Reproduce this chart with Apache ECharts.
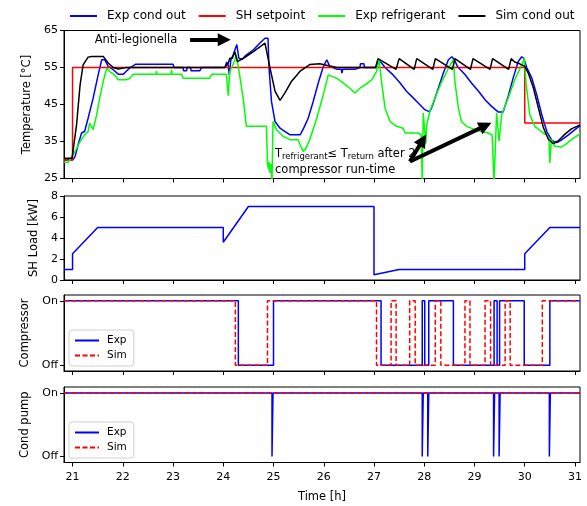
<!DOCTYPE html>
<html>
<head>
<meta charset="utf-8">
<script src="https://cdn.jsdelivr.net/npm/echarts@6/dist/echarts.min.js"></script>
<style>
  html, body { margin: 0; padding: 0; background: #fff; }
  #chart { width: 587px; height: 506px; }
</style>
</head>
<body>
<div id="chart"></div>
<script>
// axis ticks
const timeTicks = [21, 22, 23, 24, 25, 26, 27, 28, 29, 30, 31];
const tempTicks = [25, 35, 45, 55, 65];
const loadTicks = [0, 2, 4, 6, 8];
const onOffTicks = [0, 1];
const onOffLabels = ['Off', 'On'];

// top panel, [time h, temperature °C]
const expCondOut = [
  [20.83, 30.1], [21.01, 30.1], [21.05, 30.9], [21.11, 34.1], [21.18, 37.3], [21.24, 37.7],
  [21.31, 41.3], [21.41, 46.7], [21.51, 53.0], [21.58, 57.1], [21.64, 57.1], [21.71, 55.3],
  [21.81, 54.4], [21.91, 53.2], [22.01, 53.2], [22.07, 54.0], [22.14, 54.9], [22.26, 55.9],
  [23.0, 55.9], [23.02, 55.0], [23.2, 55.0], [23.21, 54.1], [23.27, 54.1], [23.28, 55.0],
  [23.35, 55.0], [23.36, 54.1], [23.53, 54.1], [23.57, 55.0], [24.03, 55.0], [24.07, 56.5],
  [24.1, 55.5], [24.12, 53.0], [24.15, 57.0], [24.2, 58.5], [24.27, 61.2], [24.31, 57.5],
  [24.38, 57.2], [24.45, 58.3], [24.6, 59.8], [24.73, 61.6], [24.83, 62.9], [24.89, 62.9],
  [24.91, 55.0], [24.96, 45.8], [25.03, 40.4], [25.13, 38.6], [25.23, 37.7], [25.33, 36.8],
  [25.53, 36.8], [25.6, 38.6], [25.69, 41.3], [25.79, 45.8], [25.89, 50.8], [25.99, 55.2],
  [26.06, 57.1], [26.12, 55.3], [26.26, 54.5], [26.35, 54.5], [26.36, 53.5], [26.38, 54.5],
  [26.62, 54.5], [26.63, 55.0], [26.72, 55.0], [26.73, 56.0], [26.8, 56.0], [26.81, 55.0],
  [27.05, 55.0], [27.08, 57.1], [27.1, 57.5], [27.15, 56.2], [27.22, 55.0], [27.38, 53.0],
  [27.52, 50.8], [27.65, 48.5], [27.75, 47.2], [27.88, 45.4], [28.01, 43.6], [28.11, 43.0],
  [28.17, 44.9], [28.28, 49.4], [28.38, 53.5], [28.48, 57.1], [28.55, 57.9], [28.6, 57.1],
  [28.66, 55.3], [28.81, 53.1], [28.94, 50.8], [29.08, 48.6], [29.21, 46.3], [29.34, 44.5],
  [29.47, 43.0], [29.57, 43.0], [29.67, 47.2], [29.77, 52.2], [29.87, 56.6], [29.94, 57.9],
  [29.98, 57.5], [30.04, 55.0], [30.14, 52.2], [30.24, 47.6], [30.34, 42.2], [30.44, 37.7],
  [30.54, 35.3], [30.64, 34.7], [30.72, 35.3], [30.87, 36.8], [31.0, 38.2], [31.1, 39.3]
];
const shSetpoint = [
  [20.83, 30.0], [21.0, 30.0], [21.0, 55.0], [30.0, 55.0], [30.0, 40.0], [31.1, 40.0]
];
const expRefrigerant = [
  [20.83, 29.4], [20.91, 29.4], [20.95, 30.1], [21.05, 32.3], [21.15, 35.0], [21.24, 36.8],
  [21.31, 37.7], [21.34, 40.0], [21.41, 38.2], [21.48, 42.2], [21.54, 46.7], [21.61, 51.2],
  [21.68, 54.8], [21.74, 53.9], [21.84, 53.0], [21.91, 51.7], [22.07, 51.7], [22.14, 52.1],
  [22.21, 53.2], [22.66, 53.2], [22.67, 54.0], [22.68, 53.2], [22.96, 53.2], [22.97, 54.4],
  [22.98, 53.2], [23.17, 53.2], [23.2, 52.1], [23.73, 52.1], [23.77, 53.2], [24.06, 53.2],
  [24.1, 47.4], [24.13, 53.9], [24.2, 56.0], [24.26, 58.4], [24.33, 52.6], [24.4, 46.3],
  [24.46, 39.1], [24.86, 39.1], [24.88, 29.0], [24.9, 27.5], [24.91, 29.5], [24.93, 26.5],
  [24.95, 29.0], [24.97, 24.0], [24.99, 40.4], [25.06, 38.2], [25.19, 36.4], [25.33, 35.5],
  [25.49, 35.5], [25.53, 34.1], [25.59, 32.3], [25.64, 33.0], [25.72, 35.5], [25.86, 41.3],
  [25.99, 47.6], [26.09, 53.0], [26.16, 52.6], [26.26, 52.1], [26.39, 50.8], [26.52, 49.4],
  [26.62, 48.1], [26.72, 49.4], [26.82, 50.3], [26.95, 51.6], [27.05, 53.9], [27.1, 57.1],
  [27.15, 51.2], [27.22, 44.0], [27.32, 40.4], [27.45, 39.1], [27.58, 38.6], [27.62, 37.3],
  [27.88, 37.3], [27.94, 36.8], [27.96, 24.0], [27.98, 42.7], [28.03, 34.5], [28.05, 39.5],
  [28.11, 43.1], [28.21, 46.7], [28.35, 51.2], [28.48, 54.8], [28.58, 57.1], [28.61, 51.2],
  [28.68, 44.0], [28.74, 40.4], [28.84, 39.1], [29.01, 38.2], [29.27, 37.3], [29.35, 36.8],
  [29.39, 24.0], [29.44, 42.7], [29.49, 35.1], [29.54, 42.3], [29.67, 46.7], [29.8, 51.7],
  [29.94, 55.7], [29.99, 57.5], [30.03, 50.3], [30.1, 42.3], [30.2, 39.1], [30.33, 37.7],
  [30.43, 36.8], [30.48, 36.1], [30.5, 29.2], [30.53, 35.5], [30.6, 33.7], [30.73, 33.5],
  [30.8, 34.1], [30.93, 35.5], [31.07, 36.8], [31.1, 37.0]
];
const simCondOut = [
  [20.83, 30.5], [20.99, 30.5], [21.08, 39.5], [21.15, 50.3], [21.21, 55.7], [21.31, 57.8],
  [21.38, 58.0], [21.61, 58.0], [21.71, 56.2], [21.81, 55.0], [21.91, 54.6], [22.07, 55.0],
  [24.03, 55.0], [24.1, 56.2], [24.13, 57.5], [24.18, 57.5], [24.23, 59.3], [24.28, 56.6],
  [24.4, 57.5], [24.6, 59.3], [24.83, 61.6], [24.93, 54.9], [25.03, 48.6], [25.13, 46.1],
  [25.23, 48.2], [25.36, 51.3], [25.53, 54.0], [25.72, 55.8], [25.92, 56.0], [26.12, 55.4],
  [26.26, 55.0], [27.03, 55.0], [27.08, 57.4], [27.44, 54.5], [27.5, 57.4], [27.8, 54.5],
  [27.85, 57.4], [28.17, 54.5], [28.22, 57.4], [28.56, 54.5], [28.61, 57.4], [28.92, 54.5],
  [28.97, 57.4], [29.31, 54.5], [29.36, 57.4], [29.68, 54.5], [29.73, 57.4], [29.8, 56.5],
  [29.9, 56.0], [30.0, 55.3], [30.07, 53.5], [30.17, 49.6], [30.27, 44.2], [30.37, 38.8],
  [30.47, 35.6], [30.57, 34.4], [30.67, 35.2], [30.8, 37.0], [30.93, 38.4], [31.07, 39.3],
  [31.1, 39.5]
];

// SH load, [time h, kW]
const shLoad = [
  [20.83, 1], [21.0, 1], [21.0, 2.5], [21.5, 5], [24.0, 5], [24.0, 3.6], [24.5, 7],
  [27.0, 7], [27.0, 0.5], [27.5, 1], [30.0, 1], [30.0, 2.5], [30.5, 5], [31.1, 5]
];

// on/off states (held until the next time)
const compExpTime = [20.83, 24.3, 25.0, 27.14, 27.96, 28.01, 28.09, 28.58, 29.39, 29.45, 29.5, 29.99, 30.5, 31.1];
const compExpState = [1, 0, 1, 0, 1, 0, 1, 0, 1, 0, 1, 0, 1, 1];
const compSimTime = [20.83, 24.24, 24.88, 27.05, 27.34, 27.44, 27.71, 27.82, 28.22, 28.33, 28.81, 28.91, 29.21, 29.32, 29.61, 29.71, 30.35, 31.1];
const compSimState = [1, 0, 1, 0, 1, 0, 1, 0, 1, 0, 1, 0, 1, 0, 1, 0, 1, 1];
const pumpExpTime = [20.83, 24.97, 24.99, 27.96, 27.98, 28.07, 28.09, 29.38, 29.4, 29.49, 29.51, 30.49, 30.51, 31.1];
const pumpExpState = [1, 0, 1, 0, 1, 0, 1, 0, 1, 0, 1, 0, 1, 1];
const pumpSimTime = [20.83, 31.1];
const pumpSimState = [1, 1];

const font = 'DejaVu Sans';
const BLUE = '#0000ff', RED = '#ff0000', GREEN = '#00ff00', BLACK = '#000000';
const xMin = 20.83, xMax = 31.1;

const zip = (a, b) => a.map((v, i) => [v, b[i]]);

function xAxisFor(gridIndex, showLabels) {
  return {
    type: 'value', gridIndex, min: xMin, max: xMax,
    axisLine: { show: true, onZero: false, lineStyle: { color: '#000', width: 1 } },
    axisTick: { show: true, customValues: timeTicks, length: 4, lineStyle: { color: '#000' } },
    axisLabel: { show: showLabels, customValues: timeTicks, margin: 9, color: '#000', fontSize: 11, fontFamily: font },
    splitLine: { show: false },
    name: showLabels ? 'Time [h]' : '',
    nameLocation: 'middle', nameGap: 29,
    nameTextStyle: { color: '#000', fontSize: 11.5, fontFamily: font }
  };
}

function yAxisFor(gridIndex, min, max, ticks, name, nameGap, fmt) {
  return {
    type: 'value', gridIndex, min, max,
    axisLine: { show: true, onZero: false, lineStyle: { color: '#000', width: 1 } },
    axisTick: { show: true, customValues: ticks, length: 4, lineStyle: { color: '#000' } },
    axisLabel: { customValues: ticks, margin: 6, color: '#000', fontSize: 11, fontFamily: font, formatter: fmt },
    splitLine: { show: false },
    name, nameLocation: 'middle', nameRotate: 90, nameGap,
    nameTextStyle: { color: '#000', fontSize: 11.5, fontFamily: font }
  };
}

function line(name, data, color, xi, extra) {
  return Object.assign({
    name, type: 'line', data, xAxisIndex: xi, yAxisIndex: xi,
    symbol: 'none', showSymbol: false,
    lineStyle: { color, width: 1.5 }, itemStyle: { color },
    emphasis: { disabled: true }
  }, extra || {});
}

const onOffFmt = v => onOffLabels[onOffTicks.indexOf(v)];
const gridBase = { left: 64, right: 7, show: true, borderColor: '#000', borderWidth: 1, backgroundColor: '#fff' };
const noMarker = { opacity: 0 };
const smallLegend = top => ({
  data: ['Exp', 'Sim'], orient: 'vertical', left: 69, top,
  itemWidth: 24, itemHeight: 8, itemGap: 4, selectedMode: false,
  itemStyle: noMarker,
  backgroundColor: 'rgba(255,255,255,0.8)', borderColor: '#d0d0d0', borderWidth: 1, borderRadius: 3,
  padding: [5, 7, 5, 5],
  textStyle: { color: '#000', fontSize: 10.5, fontFamily: font, padding: [0, 0, 0, 3] }
});

const chart = echarts.init(document.getElementById('chart'));
chart.setOption({
  animation: false,
  backgroundColor: '#fff',
  textStyle: { fontFamily: font },
  grid: [
    Object.assign({ top: 30.5, height: 148 }, gridBase),
    Object.assign({ top: 196, height: 84 }, gridBase),
    Object.assign({ top: 295, height: 76 }, gridBase),
    Object.assign({ top: 387, height: 75.5 }, gridBase)
  ],
  legend: [
    {
      data: ['Exp cond out', 'SH setpoint', 'Exp refrigerant', 'Sim cond out'],
      top: 5, left: 64, itemWidth: 27, itemHeight: 10, itemGap: 12, selectedMode: false,
      itemStyle: noMarker,
      textStyle: { color: '#000', fontSize: 12, fontFamily: font, padding: [0, 0, 0, 5] }
    },
    smallLegend(330),
    smallLegend(422)
  ],
  xAxis: [xAxisFor(0, false), xAxisFor(1, false), xAxisFor(2, false), xAxisFor(3, true)],
  yAxis: [
    yAxisFor(0, 25, 65, tempTicks, 'Temperature [°C]', 29),
    yAxisFor(1, 0, 8, loadTicks, 'SH Load [kW]', 21),
    yAxisFor(2, -0.09, 1.09, onOffTicks, 'Compressor', 33, onOffFmt),
    yAxisFor(3, -0.095, 1.095, onOffTicks, 'Cond pump', 33, onOffFmt)
  ],
  series: [
    line('Exp cond out', expCondOut, BLUE, 0),
    line('SH setpoint', shSetpoint, RED, 0),
    line('Exp refrigerant', expRefrigerant, GREEN, 0),
    line('Sim cond out', simCondOut, BLACK, 0, {
      markLine: {
        silent: true, symbol: ['none', 'triangle'], symbolSize: 13,
        label: { show: false }, emphasis: { disabled: true },
        lineStyle: { color: '#000', width: 4, type: 'solid' },
        itemStyle: { color: '#000' },
        data: [
          [{ coord: [23.34, 62.5] }, { coord: [24.02, 62.5] }],
          [{ coord: [27.715, 29.6] }, { coord: [27.97, 35.4] }],
          [{ coord: [27.715, 29.6] }, { coord: [29.22, 39.3] }]
        ]
      },
      markPoint: {
        silent: true, symbol: 'circle', symbolSize: 0,
        data: [
          {
            coord: [21.44, 62.5],
            label: { show: true, position: 'right', distance: 0, formatter: 'Anti-legionella', color: '#000', fontSize: 11.5, fontFamily: font }
          },
          {
            coord: [25.03, 29.4],
            label: {
              show: true, position: 'right', distance: 0, align: 'left',
              formatter: '{n|T}{s|refrigerant}{n|≤ T}{s|return}{n| after 2\'}\n{n|compressor run-time}',
              rich: {
                n: { color: '#000', fontSize: 11.5, fontFamily: font, lineHeight: 16 },
                s: { color: '#000', fontSize: 8.5, fontFamily: font, lineHeight: 16, padding: [6, 0, 0, 0] }
              }
            }
          }
        ]
      }
    }),
    line('SH Load', shLoad, BLUE, 1),
    line('Exp', zip(compExpTime, compExpState), BLUE, 2, { step: 'end' }),
    line('Sim', zip(compSimTime, compSimState), RED, 2, { step: 'end', lineStyle: { color: RED, width: 1.5, type: [5, 2.5] } }),
    line('Exp', zip(pumpExpTime, pumpExpState), BLUE, 3, { step: 'end' }),
    line('Sim', zip(pumpSimTime, pumpSimState), RED, 3, { step: 'end', lineStyle: { color: RED, width: 1.5, type: [5, 2.5] } })
  ]
});
window.addEventListener('resize', () => chart.resize());
</script>
</body>
</html>
